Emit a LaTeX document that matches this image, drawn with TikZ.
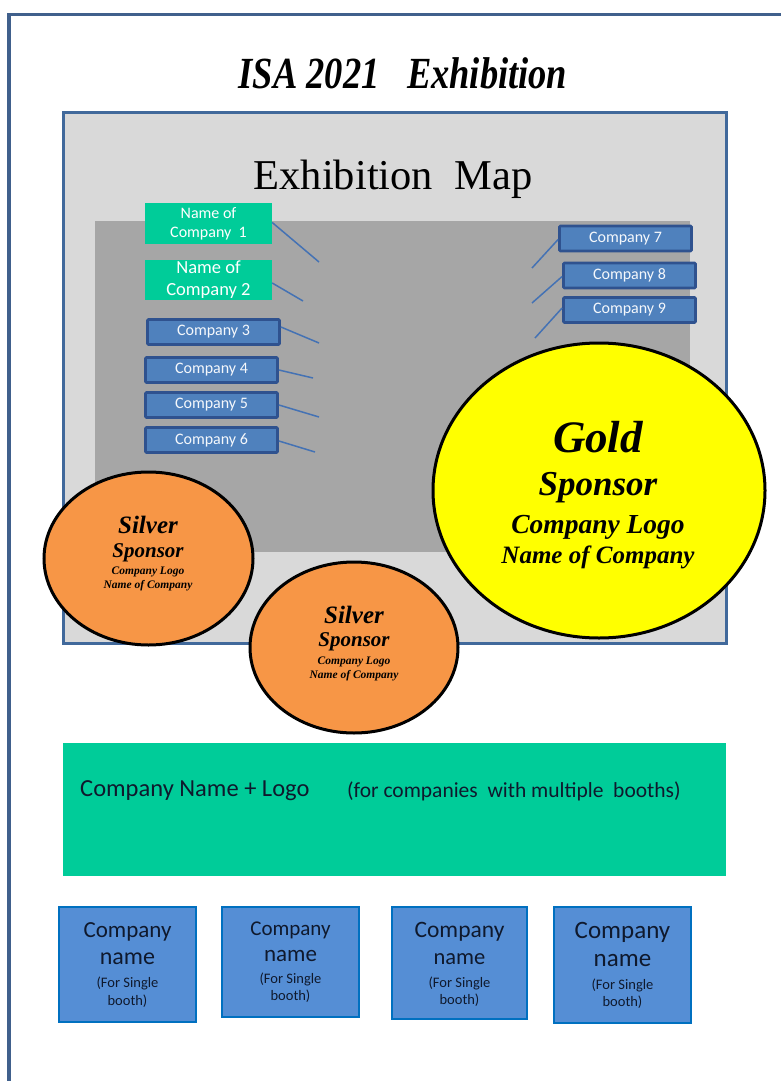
\documentclass[tikz,border=0pt]{standalone}
\usepackage{fontspec}
\usepackage{graphicx}
\setmainfont{Liberation Serif}
\newfontfamily\calib{Carlito}
\usetikzlibrary{shapes.geometric,calc}
\definecolor{frameblue}{RGB}{64,96,140}
\definecolor{mapborder}{RGB}{65,105,155}
\definecolor{mapgray}{RGB}{217,217,217}
\definecolor{midgray}{RGB}{166,166,166}
\definecolor{tealgreen}{RGB}{0,204,153}
\definecolor{boxblue}{RGB}{79,129,189}
\definecolor{boxborder}{RGB}{47,82,143}
\definecolor{boxtext}{RGB}{245,248,252}
\definecolor{linkblue}{RGB}{68,114,180}
\definecolor{silverorange}{RGB}{247,150,70}
\definecolor{goldyellow}{RGB}{255,255,0}
\definecolor{boothfill}{RGB}{85,142,213}
\definecolor{boothborder}{RGB}{0,112,192}
\definecolor{boothtext}{RGB}{15,25,45}
\begin{document}
\begin{tikzpicture}[x=1pt,y=-1pt,
  smallbox/.style={draw=boxborder, line width=2.8pt, rounded corners=1pt, fill=boxblue, minimum width=132pt, minimum height=25pt, inner sep=0pt, text=boxtext, font={\calib\fontsize{16}{16}\selectfont}},
  greenbox/.style={fill=tealgreen, minimum width=127pt, minimum height=41pt, inner sep=0pt, text=white, align=center},
  link/.style={draw=linkblue, line width=1.5pt},
  sponsor/.style={draw=black, line width=3pt, shape=ellipse, inner sep=0pt},
  sptext/.style={inner sep=0pt, text=black},
  boothbox/.style={draw=boothborder, line width=1.5pt, fill=boothfill, inner sep=0pt},
  btext/.style={inner sep=0pt, text=boothtext, align=center}
]
\useasboundingbox (0,0) rectangle (781,1081);
\fill[white] (0,0) rectangle (781,1081);
% outer frame
\node[draw=frameblue, line width=3.5pt, minimum width=800pt, minimum height=1100pt, inner sep=0pt, anchor=north west] (outer) at (7,13) {};
% title
\node[inner sep=0pt] (title) at (403,73) {\scalebox{0.82}[1]{\fontsize{44.5}{44.5}\selectfont\bfseries\itshape ISA 2021\ \ \ Exhibition}};
% map
\node[draw=mapborder, line width=3pt, fill=mapgray, minimum width=663pt, minimum height=531pt, inner sep=0pt] (map) at (394.5,377.5) {};
\node[inner sep=0pt] (maptitle) at (393,179) {\fontsize{42.5}{42.5}\selectfont Exhibition\ \ Map};
\node[fill=midgray, minimum width=595pt, minimum height=331pt, inner sep=0pt] (hall) at (392.5,386.5) {};
% end points of connectors
\coordinate (e1) at (319,262);
\coordinate (e2) at (303,301);
\coordinate (e3) at (319,343);
\coordinate (e4) at (313,378);
\coordinate (e5) at (319,417);
\coordinate (e6) at (315,452);
\coordinate (e7) at (532,268);
\coordinate (e8) at (532,303);
\coordinate (e9) at (535,338);
% booths in map
\node[greenbox, font={\calib\fontsize{16}{19}\selectfont}] (g1) at (208.5,223.5) {Name of\\Company\ \ 1};
\node[greenbox, minimum height=40pt, font={\calib\fontsize{18.5}{22}\selectfont}] (g2) at (208.5,280) {Name of\\Company 2};
\node[smallbox] (c3) at (213.5,332) {Company 3};
\node[smallbox] (c4) at (211.5,370) {Company 4};
\node[smallbox] (c5) at (211.5,405) {Company 5};
\node[smallbox] (c6) at (211.5,440) {Company 6};
\node[smallbox] (c7) at (625.5,238.5) {Company 7};
\node[smallbox] (c8) at (629.5,275.5) {Company 8};
\node[smallbox] (c9) at (629.5,310) {Company 9};
\draw[link] ([yshift=1pt]g1.east) -- (e1);
\draw[link] ([yshift=-3pt]g2.east) -- (e2);
\draw[link] ([yshift=5pt]c3.east) -- (e3);
\draw[link] (c4.east) -- (e4);
\draw[link] (c5.east) -- (e5);
\draw[link] ([yshift=-1pt]c6.east) -- (e6);
\draw[link] ([yshift=-1pt]c7.west) -- (e7);
\draw[link] ([yshift=-1pt]c8.west) -- (e8);
\draw[link] ([yshift=2pt]c9.west) -- (e9);
% sponsors
\node[sponsor, fill=silverorange, minimum width=209pt, minimum height=173pt] (s1) at (148.5,558.5) {};
\node[sptext, font={\fontsize{25}{25}\selectfont\bfseries\itshape}] (s1a) at (148,525) {Silver};
\node[sptext, font={\fontsize{21}{21}\selectfont\bfseries\itshape}] (s1b) at (148,553) {Sponsor};
\node[sptext, font={\fontsize{11.5}{11.5}\selectfont\bfseries\itshape}] (s1c) at (148,572) {Company Logo};
\node[sptext, font={\fontsize{11.5}{11.5}\selectfont\bfseries\itshape}] (s1d) at (148,585.5) {Name of Company};
\node[sponsor, fill=silverorange, minimum width=208pt, minimum height=171pt] (s2) at (354,647.5) {};
\node[sptext, font={\fontsize{25}{25}\selectfont\bfseries\itshape}] (s2a) at (354,615) {Silver};
\node[sptext, font={\fontsize{21}{21}\selectfont\bfseries\itshape}] (s2b) at (354,642) {Sponsor};
\node[sptext, font={\fontsize{11.5}{11.5}\selectfont\bfseries\itshape}] (s2c) at (354,662) {Company Logo};
\node[sptext, font={\fontsize{11.5}{11.5}\selectfont\bfseries\itshape}] (s2d) at (354,676) {Name of Company};
\node[sponsor, fill=goldyellow, minimum width=332pt, minimum height=295pt] (gold) at (599,490.5) {};
\node[sptext, font={\fontsize{45}{45}\selectfont\bfseries\itshape}] (gda) at (598,437) {Gold};
\node[sptext, font={\fontsize{35}{35}\selectfont\bfseries\itshape}] (gdb) at (598,488) {Sponsor};
\node[sptext, font={\fontsize{27.5}{27.5}\selectfont\bfseries\itshape}] (gdc) at (598,527) {Company Logo};
\node[sptext, font={\fontsize{25}{25}\selectfont\bfseries\itshape}] (gdd) at (598,557) {Name of Company};
% multi booth band
\node[fill=tealgreen, minimum width=663pt, minimum height=133pt, inner sep=0pt] (band) at (394.5,809.5) {};
\node[inner sep=0pt, anchor=west, font={\calib\fontsize{24.5}{24.5}\selectfont}, text=boothtext] (bandA) at (80,791) {Company Name + Logo};
\node[inner sep=0pt, anchor=west, font={\calib\fontsize{21.5}{21.5}\selectfont}, text=boothtext] (bandB) at (347,791) {(for companies\ \ with multiple\ \ booths)};
% single booths
\node[boothbox, minimum width=137pt, minimum height=115pt] (b1) at (127.5,964.5) {};
\node[btext, font={\calib\fontsize{23}{23}\selectfont}] (b1a) at (127.5,932) {Company};
\node[btext, font={\calib\fontsize{24}{24}\selectfont}] (b1b) at (127.5,959) {name};
\node[btext, font={\calib\fontsize{14.5}{18}\selectfont}] (b1c) at (127.5,992) {(For Single\\booth)};
\node[boothbox, minimum width=137pt, minimum height=110pt] (b2) at (290.5,962) {};
\node[btext, font={\calib\fontsize{21}{21}\selectfont}] (b2a) at (290.5,930) {Company};
\node[btext, font={\calib\fontsize{23}{23}\selectfont}] (b2b) at (290.5,956) {name};
\node[btext, font={\calib\fontsize{14.5}{17}\selectfont}] (b2c) at (290.5,987.5) {(For Single\\booth)};
\node[boothbox, minimum width=135pt, minimum height=112pt] (b3) at (459.5,963) {};
\node[btext, font={\calib\fontsize{23.5}{23.5}\selectfont}] (b3a) at (459.5,932) {Company};
\node[btext, font={\calib\fontsize{22.5}{22.5}\selectfont}] (b3b) at (459.5,959) {name};
\node[btext, font={\calib\fontsize{14.5}{17}\selectfont}] (b3c) at (459.5,991.5) {(For Single\\booth)};
\node[boothbox, minimum width=137pt, minimum height=116pt] (b4) at (622.5,965) {};
\node[btext, font={\calib\fontsize{25}{25}\selectfont}] (b4a) at (622.5,932) {Company};
\node[btext, font={\calib\fontsize{25}{25}\selectfont}] (b4b) at (622.5,961) {name};
\node[btext, font={\calib\fontsize{14.5}{17}\selectfont}] (b4c) at (622.5,993.5) {(For Single\\booth)};
\end{tikzpicture}
\end{document}
